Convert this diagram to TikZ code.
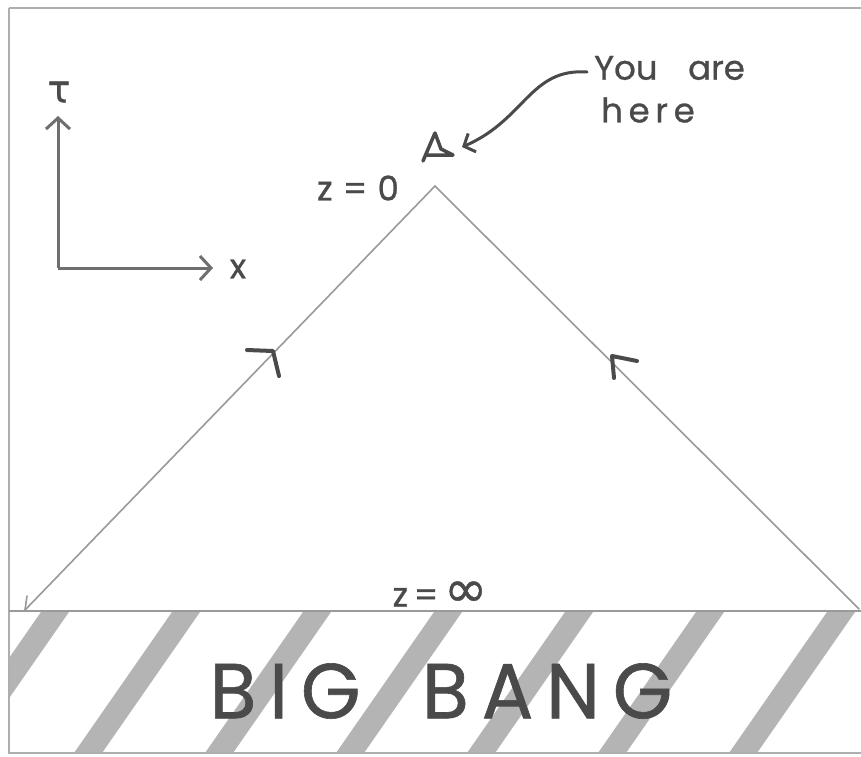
\documentclass[tikz,border=0pt]{standalone}
\usepackage{fontspec}
\setmainfont{Poppins}
\newfontfamily\hand{Poppins}[FakeBold=0.8]
\newfontfamily\dejavu{DejaVu Sans}[FakeBold=0.8]
\usetikzlibrary{arrows.meta}
\definecolor{ink}{HTML}{4A4A4A}
\definecolor{pencil}{HTML}{9A9A9A}
\definecolor{hatch}{HTML}{B4B4B4}
\tikzset{
  lbl/.style={text=ink, inner sep=0pt, font=\hand\fontsize{34}{40}\selectfont},
  ray/.style={draw=pencil, line width=1.6pt, line cap=round},
  axisline/.style={draw=ink!80, line width=3pt, -{Straight Barb[length=11pt,width=24pt,line width=3pt]}},
  marker/.style={draw=ink, line width=4pt, line cap=round, line join=round},
  stripe/.style={fill=hatch, draw=none},
}
\begin{document}
\begin{tikzpicture}[x=1pt,y=-1pt]
\useasboundingbox (0,0) rectangle (861,756);
\fill[white] (0,0) rectangle (861,756);
% hatched Big Bang band
\begin{scope}
  \clip (9,612) rectangle (861,753);
  \foreach \k in {0,...,6} {
    \pgfmathsetmacro{\xt}{55+131*\k}
    \fill[stripe] (\xt-14,612) -- (\xt+14,612) -- (\xt-98+14,753) -- (\xt-98-14,753) -- cycle;
  }
\end{scope}
% frame
\draw[draw=pencil!80, line width=1.2pt] (9,8) -- (861,8);
\draw[draw=pencil!80, line width=1.2pt] (9,8) -- (9,753) -- (861,753);
% horizon line
\coordinate (hl) at (9,611);
\coordinate (hr) at (861,611);
\draw[draw=pencil, line width=2.6pt] (hl) -- (hr);
% light cone
\coordinate (apex) at (435,186);
\coordinate (bl) at (25,610);
\coordinate (br) at (859,609);
\draw[ray] (bl) -- (apex) -- (br);
\draw[ray] (bl) -- ++(2,-14);
% ray direction markers
\draw[marker] (247,350) -- (273,351) -- (279,376);
\draw[marker] (637,361) -- (612,356) -- (614,378);
% axes
\coordinate (origin) at (58,268);
\coordinate (tauend) at (58,116);
\coordinate (xend) at (213,268);
\draw[axisline] (origin) -- (tauend);
\draw[axisline] (origin) -- (xend);
\node[lbl, font=\dejavu\fontsize{38}{40}\selectfont] (taulbl) at (59,92) {τ};
\node[lbl] (xlbl) at (238,269) {x};
% observer
\coordinate (obs) at (437,147);
\draw[draw=ink, line width=3.5pt, line cap=round, line join=round]
  (435,133) -- (423,161) (435,133) -- (441,149) -- (453,155) -- (427,155);
\node[lbl] (z0) at (358,188) {z\hspace{0.3em}=\hspace{0.3em}0};
\node[lbl] (zinf) at (440,594) {z\,=\,{\dejavu\fontsize{52}{40}\selectfont ∞}};
% you are here
\node[lbl, anchor=west] (you) at (594,68) {You\hspace{0.9em}are};
\node[lbl, anchor=west] (here) at (601,110) {h\,e\,r\,e};
\coordinate (arrowstart) at (587,72);
\coordinate (arrowend) at (462,147);
\draw[draw=ink, line width=3pt, line cap=round, -{Straight Barb[length=9pt,width=20pt,line width=3pt]}]
  (arrowstart) .. controls (530,68) and (525,120) .. (arrowend);
% big bang
\node[text=ink, inner sep=0pt] (bigbang) at (441,691)
  {\resizebox{463pt}{55pt}{\hand\fontsize{60}{60}\selectfont B\,I\,G\hspace{0.8em}B\,A\,N\,G}};
\end{tikzpicture}
\end{document}
